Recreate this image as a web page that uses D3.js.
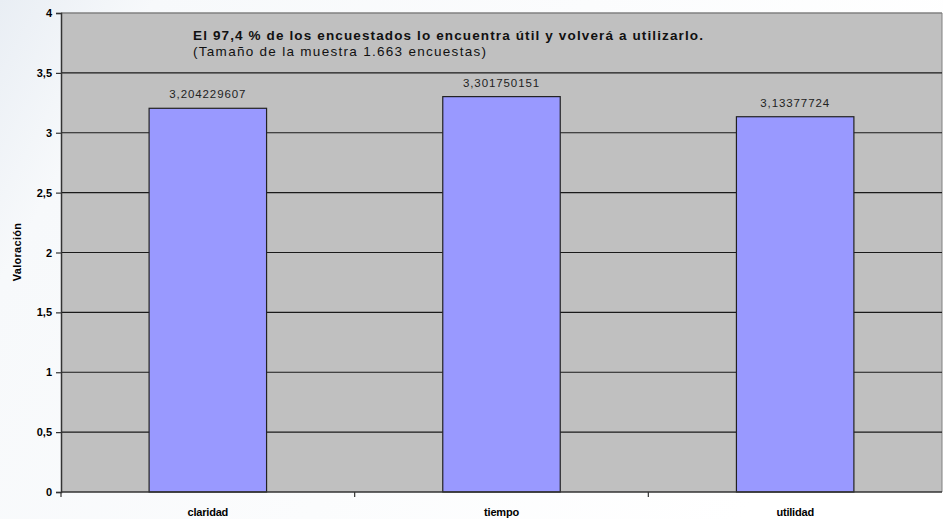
<!DOCTYPE html>
<html>
<head>
<meta charset="utf-8">
<script src="https://cdn.jsdelivr.net/npm/d3@7"></script>
<style>
  body { margin: 0; background: #fff; }
  svg { display: block; font-family: "Liberation Sans", Arial, sans-serif; }
</style>
</head>
<body>
<svg width="943" height="519"></svg>
<script>
// data
let categories = ['claridad', 'tiempo', 'utilidad'];
let values = [3.204229607, 3.301750151, 3.13377724];
let labels = ['3,204229607', '3,301750151', '3,13377724'];
let yTicks = [0, 0.5, 1, 1.5, 2, 2.5, 3, 3.5, 4];

let svgWidth = 943, svgHeight = 519;
let margin = {left: 61, right: 1, top: 13, bottom: 27};
let w = svgWidth - margin.left - margin.right;
let h = svgHeight - margin.top - margin.bottom;

let svg = d3.select('svg');

// soft background like the slide it came from
let defs = svg.append('defs');
let grad = defs.append('linearGradient').attr('id', 'bg')
    .attr('x1', 0).attr('y1', 0).attr('x2', 1).attr('y2', 0.3);
grad.append('stop').attr('offset', 0).attr('stop-color', '#e9eef4');
grad.append('stop').attr('offset', 0.15).attr('stop-color', '#f7f9fb');
grad.append('stop').attr('offset', 1).attr('stop-color', '#ffffff');
svg.append('rect').attr('width', svgWidth).attr('height', svgHeight).attr('fill', 'url(#bg)');

let g = svg.append('g').attr('transform', 'translate(' + margin.left + ',' + margin.top + ')');

let x = d3.scaleBand().domain(categories).range([0, w]);
let y = d3.scaleLinear().domain([0, 4]).range([h, 0]);

g.append('rect').attr('width', w).attr('height', h).attr('fill', '#c0c0c0');
g.append('line').attr('x1', 0).attr('x2', w).attr('y1', 0).attr('y2', 0)
    .attr('stroke', '#808080').attr('stroke-width', 1.5);
g.append('line').attr('x1', w).attr('x2', w).attr('y1', 0).attr('y2', h)
    .attr('stroke', '#808080').attr('stroke-width', 1);

// gridlines
g.selectAll('.grid')
    .data(yTicks.slice(1, -1))
    .enter()
    .append('line')
    .attr('x1', 0).attr('x2', w)
    .attr('y1', d => y(d)).attr('y2', d => y(d))
    .attr('stroke', '#1a1a1a').attr('stroke-width', 1.2);

let barWidth = x.step() * 0.4;
g.selectAll('.bar')
    .data(values)
    .enter()
    .append('rect')
    .attr('x', (d, i) => x(categories[i]) + x.step() / 2 - barWidth / 2)
    .attr('y', d => y(d))
    .attr('width', barWidth)
    .attr('height', d => h - y(d))
    .attr('fill', '#9999ff')
    .attr('stroke', '#222')
    .attr('stroke-width', 1.2);

g.selectAll('.val')
    .data(values)
    .enter()
    .append('text')
    .attr('x', (d, i) => x(categories[i]) + x.step() / 2)
    .attr('y', d => y(d) - 10)
    .attr('text-anchor', 'middle')
    .attr('font-size', 11.5)
    .attr('letter-spacing', 0.9)
    .attr('fill', '#222')
    .text((d, i) => labels[i]);

// y axis
let yAxis = d3.axisLeft(y).tickValues(yTicks).tickSize(5)
    .tickFormat(d => String(d).replace('.', ','));
let ya = g.append('g').call(yAxis);
ya.select('.domain').attr('stroke', '#333').attr('stroke-width', 1.5);
ya.selectAll('.tick line').attr('stroke', '#333').attr('stroke-width', 1.2);
ya.selectAll('.tick text').attr('font-size', 11).attr('font-weight', 900)
    .attr('fill', '#000').attr('x', -9);

// x axis with ticks at band edges
let xa = g.append('g').attr('transform', 'translate(0,' + h + ')');
xa.append('line').attr('x1', 0).attr('x2', w).attr('stroke', '#333').attr('stroke-width', 1.5);
xa.selectAll('.tk')
    .data(categories)
    .enter()
    .append('line')
    .attr('x1', d => x(d)).attr('x2', d => x(d))
    .attr('y1', 0).attr('y2', 5)
    .attr('stroke', '#333').attr('stroke-width', 1.2);
xa.selectAll('.lbl')
    .data(categories)
    .enter()
    .append('text')
    .attr('x', d => x(d) + x.step() / 2)
    .attr('y', 24)
    .attr('text-anchor', 'middle')
    .attr('font-size', 11)
    .attr('font-weight', 'bold')
    .attr('letter-spacing', -0.2)
    .text(d => d);

// y title
svg.append('text')
    .attr('transform', 'translate(21,252) rotate(-90)')
    .attr('text-anchor', 'middle')
    .attr('font-size', 11)
    .attr('font-weight', 'bold')
    .attr('letter-spacing', 0.3)
    .text('Valoración');

// chart title
svg.append('text').attr('x', 193).attr('y', 40)
    .attr('font-size', 13.5).attr('font-weight', 'bold').attr('fill', '#111')
    .attr('textLength', 510).attr('lengthAdjust', 'spacing')
    .text('El 97,4 % de los encuestados lo encuentra útil y volverá a utilizarlo.');
svg.append('text').attr('x', 193).attr('y', 56)
    .attr('font-size', 13.5).attr('fill', '#111')
    .attr('textLength', 293).attr('lengthAdjust', 'spacing')
    .text('(Tamaño de la muestra 1.663 encuestas)');
</script>
</body>
</html>
